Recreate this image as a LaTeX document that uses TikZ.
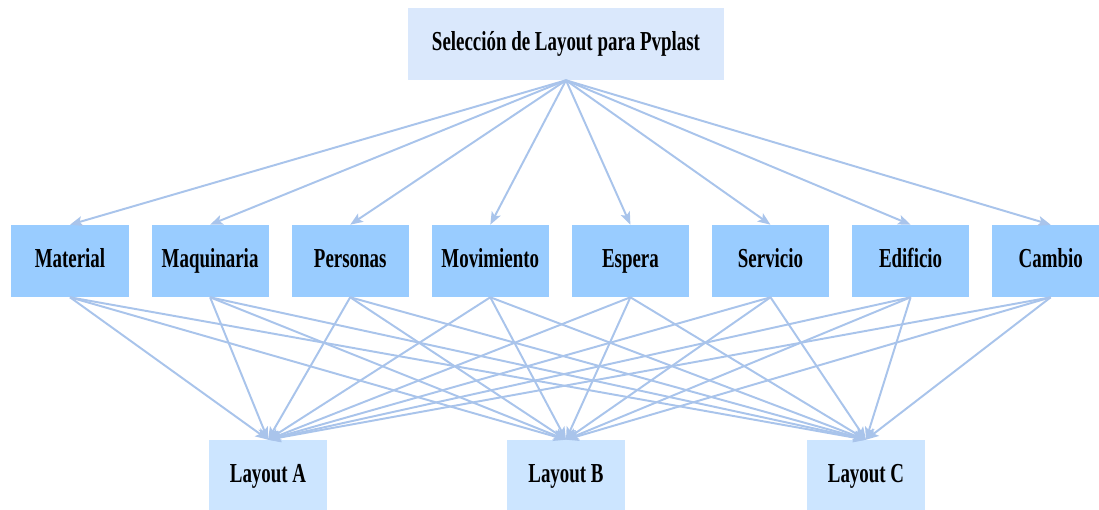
\documentclass[tikz,border=0pt]{standalone}
\usepackage{fontspec}
\setmainfont{Liberation Serif}[FakeStretch=0.69]
\usetikzlibrary{arrows.meta}
\definecolor{topfill}{HTML}{DAE8FC}
\definecolor{midfill}{HTML}{99CCFF}
\definecolor{lowfill}{HTML}{CCE5FF}
\definecolor{linkcol}{HTML}{A9C4EB}
\tikzset{
  boxtext/.style={font=\fontsize{19.5}{22}\selectfont\bfseries, text height=9pt, text depth=0pt},
  factorbox/.style={boxtext, fill=midfill, minimum width=2.925cm, minimum height=1.8cm},
  layoutbox/.style={boxtext, fill=lowfill, minimum width=2.925cm, minimum height=1.8cm},
  link/.style={draw=linkcol, line width=1.4pt, -{Stealth[length=9pt, width=7pt, inset=2pt]}}
}
\begin{document}
\begin{tikzpicture}[x=0.025cm, y=-0.025cm]
\useasboundingbox (0,0) rectangle (1099,510);

\node[boxtext, fill=topfill, minimum width=7.875cm, minimum height=1.8cm] (goal) at (566,44) {Selección de Layout para Pvplast};

% criterios
\foreach \name/\label [count=\i from 0] in {mat/Material, maq/Maquinaria, per/Personas, mov/Movimiento, esp/Espera, ser/Servicio, edi/Edificio, cam/Cambio}
  \node[factorbox] (\name) at ({70+140.1*\i},261) {\label};

% alternativas
\node[layoutbox] (la) at (268,476) {Layout A};
\node[layoutbox] (lb) at (566,476) {Layout B};
\node[layoutbox] (lc) at (866,476) {Layout C};

\foreach \name in {mat, maq, per, mov, esp, ser, edi, cam} {
  \draw[link] (goal.south) -- (\name.north);
  \foreach \alt in {la, lb, lc}
    \draw[link] (\name.south) -- (\alt.north);
}
\end{tikzpicture}
\end{document}
